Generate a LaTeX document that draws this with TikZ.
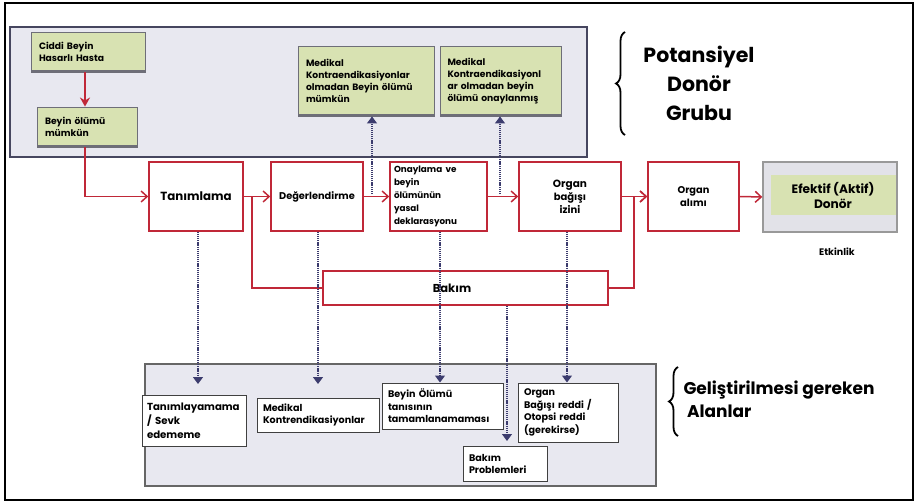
\documentclass[tikz,border=0pt]{standalone}
\usepackage{fontspec}
\setmainfont{Poppins}
\usetikzlibrary{arrows.meta,decorations.pathreplacing,calc}
\definecolor{rd}{RGB}{192,40,56}
\definecolor{gfill}{RGB}{216,226,178}
\definecolor{gborder}{RGB}{110,110,120}
\definecolor{grpfill}{RGB}{232,232,240}
\definecolor{grpborder}{RGB}{70,70,95}
\definecolor{navy}{RGB}{60,60,110}
\definecolor{efkfill}{RGB}{226,226,232}
\tikzset{
  greenbox/.style={draw=gborder, fill=gfill, line width=0.9pt, inner xsep=8pt, align=left,
     font=\bfseries\fontsize{9.2}{12}\selectfont},
  redbox/.style={draw=rd, fill=white, line width=1.6pt, align=center,
     font=\bfseries\fontsize{10}{13}\selectfont},
  whitebox/.style={draw=black!75, fill=white, line width=1pt, align=left, inner xsep=5pt,
     font=\bfseries\fontsize{10.2}{14}\selectfont},
  grpbox/.style={draw=grpborder, fill=grpfill, line width=1.6pt},
  redarrow/.style={draw=rd, line width=1.5pt, -{Straight Barb[length=6pt,width=11pt,line width=1.5pt]}},
  redline/.style={draw=rd, line width=1.5pt},
  dotarrow/.style={draw=navy, line width=1.3pt, dash pattern=on 1.2pt off 0.9pt, -{Triangle[length=7pt,width=10pt]}},
  bigtext/.style={font=\bfseries\fontsize{20.5}{29}\selectfont, align=center},
  mbrace/.style={draw=black, line width=1.8pt, decorate, decoration={brace, amplitude=9pt}},
}
\begin{document}
\begin{tikzpicture}[x=1pt,y=-1pt]
\useasboundingbox (0,0) rectangle (916,503);
\fill[white] (0,0) rectangle (916,503);
\draw[line width=2.2pt] (5,3) rectangle (913,500);

% top group
\node[grpbox, minimum width=577pt, minimum height=130pt] (topgrp) at (298.5,92) {};
\node[greenbox, minimum width=114pt, minimum height=40pt, text width=98pt] (ciddi) at (88,52) {Ciddi Beyin\\Hasarlı Hasta};
\node[greenbox, minimum width=100pt, minimum height=40pt, text width=84pt] (beyin) at (87,127) {Beyin ölümü\\mümkün};
\node[greenbox, minimum width=136pt, minimum height=70pt, text width=120pt] (med1) at (366,81) {Medikal\\Kontraendikasiyonlar\\olmadan Beyin ölümü\\mümkün};
\node[greenbox, minimum width=121pt, minimum height=70pt, text width=106pt, inner xsep=7.5pt] (med2) at (500.5,81) {Medikal\\Kontraendikasiyonl\\ar olmadan beyin\\ölümü onaylanmış};
\foreach \n in {ciddi,beyin,med1,med2}{
  \draw[gborder, line width=2.6pt] ([xshift=0.5pt,yshift=1.3pt]\n.south west) -- ([xshift=-0.5pt,yshift=1.3pt]\n.south east);
}
\draw[mbrace] (625,135) -- (625,32);
\node[bigtext] (pdg) at (699,83) {Potansiyel\\Donör\\Grubu};

% main row
\node[redbox, minimum width=94pt, minimum height=69pt] (tan) at (196,196.5) {\fontsize{11.8}{14}\selectfont Tanımlama};
\node[redbox, minimum width=92pt, minimum height=69pt] (deg) at (317,196.5) {\fontsize{9.8}{12}\selectfont Değerlendirme};
\node[redbox, minimum width=97pt, minimum height=69pt, text width=89pt, align=left, inner xsep=4pt, inner ysep=1pt] (ony) at (438.5,196.5) {\fontsize{8.8}{12.8}\selectfont Onaylama ve\\beyin\\ölümünün\\yasal\\deklarasyonu};
\node[redbox, minimum width=102pt, minimum height=69pt] (org) at (570,196.5) {\fontsize{10.5}{14}\selectfont Organ\\bağışı\\izini};
\node[redbox, minimum width=91pt, minimum height=69pt] (alim) at (693.5,196.5) {\fontsize{9.8}{13.5}\selectfont Organ\\alımı};
\node[draw=black!40, fill=efkfill, line width=1.4pt, minimum width=134pt, minimum height=70pt] (efk) at (830,197) {};
\node[fill=gfill, minimum width=125pt, minimum height=40pt, align=center, font=\bfseries\fontsize{12.2}{15}\selectfont] (efkin) at (833,195) {Efektif (Aktif)\\Donör};
\node[font=\bfseries\fontsize{9.5}{11}\selectfont] (etk) at (837,252) {Etkinlik};
\node[redbox, minimum width=285pt, minimum height=34pt] (bakim) at (465.5,288) {};
\node[font=\bfseries\fontsize{11.5}{13}\selectfont] (bakimt) at (452,288) {Bakım};

% bottom group
\node[grpbox, draw=black!60, minimum width=511pt, minimum height=122pt] (botgrp) at (400.5,425) {};
\node[whitebox, minimum width=104pt, minimum height=51pt, text width=94pt] (tsv) at (194,420.5) {Tanımlayamama\\/ Sevk\\edememe};
\node[whitebox, minimum width=122pt, minimum height=34pt, text width=110pt, inner xsep=6pt, font=\bfseries\fontsize{9.6}{12}\selectfont] (mkon) at (318,415) {Medikal\\Kontrendikasiyonlar};
\node[whitebox, minimum width=121pt, minimum height=46pt, text width=109pt, inner xsep=6pt, font=\bfseries\fontsize{9.6}{12.5}\selectfont] (bol) at (442.5,406) {Beyin Ölümü\\tanısının\\tamamlanamaması};
\node[whitebox, minimum width=100pt, minimum height=59pt, text width=88pt, inner xsep=6pt, font=\bfseries\fontsize{9.6}{12.5}\selectfont] (orr) at (568,412.5) {Organ\\Bağışı reddi /\\Otopsi reddi\\(gerekirse)};
\node[whitebox, minimum width=84pt, minimum height=35pt, text width=72pt, inner xsep=6pt, font=\bfseries\fontsize{9.6}{12}\selectfont] (bpr) at (505,463.5) {Bakım\\Problemleri};
\draw[mbrace] (678,436) -- (678,367);
\node[font=\bfseries\fontsize{17}{23}\selectfont, align=left, anchor=west] (gga) at (680,399) {Geliştirilmesi gereken\\\ Alanlar};

% red connectors
\draw[rd, line width=2pt, -{Stealth[length=9pt,width=10pt]}] (ciddi.south -| 85,0) -- (beyin.north -| 85,0);
\draw[redarrow] (beyin.south -| 85,0) |- (tan.west);
\draw[redarrow] (tan.east) -- (deg.west);
\draw[redarrow] (deg.east) -- (ony.west);
\draw[redarrow] (ony.east) -- (org.west);
\draw[redarrow] (org.east) -- (alim.west);
\draw[redarrow] (alim.east) -- (efk.west);
\coordinate (jn) at (252,196.5);
\draw[redline] (jn) |- (bakim.west);
\draw[redarrow] (bakim.east) -| (634,196.5) -- (alim.west);

% dotted connectors
\draw[dotarrow] (372,194) -- (med1.south -| 372,0);
\draw[dotarrow] (500,194) -- (med2.south -| 500,0);
\coordinate (e1) at (198,384);
\coordinate (e2) at (318,384);
\coordinate (e4) at (507,441);
\draw[dotarrow] (tan.south -| e1) -- (e1);
\draw[dotarrow] (deg.south -| e2) -- (e2);
\draw[dotarrow] (ony.south -| 440,0) -- (bol.north -| 440,0);
\draw[dotarrow] (bakim.south -| e4) -- (e4);
\draw[dotarrow] (org.south -| 567,0) -- (orr.north -| 567,0);
\end{tikzpicture}
\end{document}
